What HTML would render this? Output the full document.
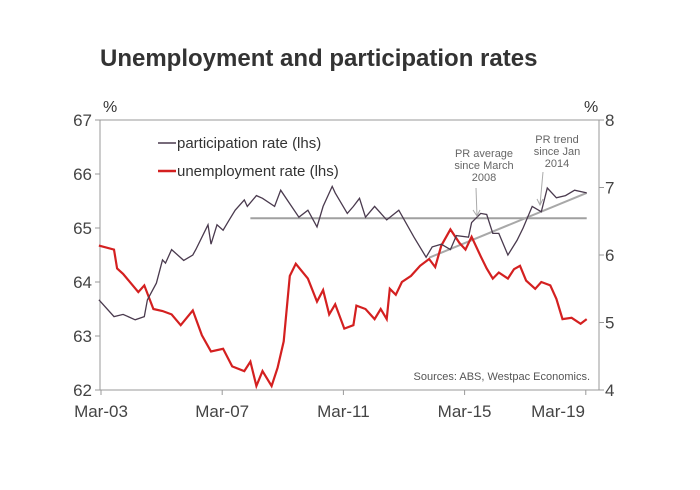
<!DOCTYPE html>
<html><head><meta charset="utf-8"><style>
body{margin:0;background:#fff;}
svg text{font-family:"Liberation Sans",Arial,sans-serif;}
</style></head><body>
<svg width="700" height="485" xmlns="http://www.w3.org/2000/svg">
<text x="100" y="66" font-size="24" font-weight="bold" fill="#333">Unemployment and participation rates</text>
<g id="axes"></g>
<g id="series"></g>
<g>
 <line x1="158" y1="143" x2="176" y2="143" stroke="#4a3a4e" stroke-width="1.5"/>
 <text x="177" y="148" font-size="15" fill="#333">participation rate (lhs)</text>
 <line x1="158" y1="171" x2="176" y2="171" stroke="#d42020" stroke-width="2.5"/>
 <text x="177" y="176" font-size="15" fill="#333">unemployment rate (lhs)</text>
</g>
<g font-size="11" fill="#666" text-anchor="middle">
 <text x="484" y="157">PR average</text><text x="484" y="169">since March</text><text x="484" y="181">2008</text>
 <line x1="476" y1="188" x2="477" y2="216" stroke="#aaa"/>
 <path d="M473,210 L477,216 L480,210" fill="none" stroke="#aaa"/>
</g>
<g font-size="11" fill="#666" text-anchor="middle">
 <text x="557" y="143">PR trend</text><text x="557" y="155">since Jan</text><text x="557" y="167">2014</text>
 <line x1="543" y1="172" x2="540" y2="205" stroke="#aaa"/>
 <path d="M537,199 L540,205 L543,199" fill="none" stroke="#aaa"/>
</g>
<text x="590" y="380" font-size="11" fill="#555" text-anchor="end">Sources: ABS, Westpac Economics.</text>
</svg>
<script>
const prDates=[2003.1,2003.6,2003.9,2004.3,2004.6,2004.7,2005.0,2005.2,2005.3,2005.5,2005.9,2006.2,2006.3,2006.7,2006.8,2007.0,2007.2,2007.4,2007.6,2007.9,2008.0,2008.3,2008.5,2008.9,2009.1,2009.4,2009.7,2010.0,2010.3,2010.5,2010.8,2010.9,2011.3,2011.5,2011.7,2011.9,2012.2,2012.6,2013.0,2013.5,2013.9,2014.1,2014.4,2014.7,2014.9,2015.3,2015.4,2015.7,2015.9,2016.1,2016.3,2016.6,2016.9,2017.1,2017.4,2017.7,2017.9,2018.2,2018.5,2018.8,2019.2];
const prValues=[63.67,63.36,63.4,63.3,63.36,63.67,63.98,64.41,64.35,64.6,64.4,64.5,64.6,65.06,64.7,65.06,64.96,65.15,65.33,65.52,65.4,65.6,65.55,65.4,65.7,65.45,65.2,65.33,65.02,65.4,65.77,65.65,65.27,65.4,65.55,65.2,65.4,65.15,65.33,64.83,64.46,64.65,64.7,64.6,64.86,64.83,65.1,65.27,65.25,64.9,64.9,64.5,64.77,65.0,65.4,65.3,65.74,65.56,65.6,65.7,65.65];
const urDates=[2003.1,2003.6,2003.7,2003.9,2004.4,2004.6,2004.9,2005.2,2005.5,2005.8,2006.2,2006.5,2006.8,2007.2,2007.5,2007.9,2008.1,2008.3,2008.5,2008.8,2009.0,2009.2,2009.4,2009.6,2010.0,2010.3,2010.5,2010.7,2010.9,2011.2,2011.5,2011.6,2011.9,2012.2,2012.4,2012.6,2012.7,2012.9,2013.1,2013.4,2013.7,2014.0,2014.2,2014.4,2014.7,2015.0,2015.2,2015.4,2015.7,2015.9,2016.1,2016.3,2016.6,2016.8,2017.0,2017.2,2017.5,2017.7,2018.0,2018.2,2018.4,2018.7,2019.0,2019.2];
const urValues=[6.14,6.08,5.8,5.72,5.45,5.55,5.2,5.17,5.12,4.96,5.18,4.81,4.57,4.61,4.35,4.28,4.42,4.06,4.28,4.06,4.33,4.72,5.69,5.87,5.65,5.31,5.48,5.12,5.27,4.91,4.96,5.25,5.2,5.05,5.2,5.05,5.5,5.41,5.6,5.69,5.84,5.94,5.82,6.14,6.38,6.18,6.08,6.27,5.98,5.8,5.65,5.74,5.65,5.79,5.84,5.62,5.5,5.6,5.55,5.35,5.05,5.07,4.98,5.05];
const avgLine=[2008.1,2019.2,65.18];
const trendLine=[2014.0,64.45,2019.2,65.65];
const leftTicks=[62,63,64,65,66,67];
const rightTicks=[4,5,6,7,8];
const xTickYears=[2003.17,2007.17,2011.17,2015.17,2019.17];
const xTickLabels=["Mar-03","Mar-07","Mar-11","Mar-15","Mar-19"];

const L=100,R=599,T=120,B=390;
const x=d=>101+(d-2003.17)*30.3;
const yl=v=>T+(67-v)*(B-T)/5;
const yr=v=>T+(8-v)*(B-T)/4;
const NS="http://www.w3.org/2000/svg";
function mk(tag,attrs,parent){const e=document.createElementNS(NS,tag);for(const k in attrs)e.setAttribute(k,attrs[k]);parent.appendChild(e);return e;}
const ax=document.getElementById('axes'), sr=document.getElementById('series');
let e=mk('rect',{x:L,y:T,width:R-L,height:B-T,fill:'none',stroke:'#999'},ax);


leftTicks.forEach(v=>{mk('line',{x1:L-5,x2:L,y1:yl(v),y2:yl(v),stroke:'#999'},ax);
 const t=mk('text',{x:L-8,y:yl(v)+6,'font-size':17,fill:'#444','text-anchor':'end'},ax);t.textContent=v;
 
 });
rightTicks.forEach(v=>{mk('line',{x1:R,x2:R+5,y1:yr(v),y2:yr(v),stroke:'#999'},ax);
 const t=mk('text',{x:R+6,y:yr(v)+6,'font-size':17,fill:'#444'},ax);t.textContent=v;
 
 });
xTickYears.forEach((d,i)=>{mk('line',{x1:x(d),x2:x(d),y1:B,y2:B+5,stroke:'#999'},ax);
 const last=i===xTickYears.length-1;
 const t=mk('text',{x:last?585:x(d),y:417,'font-size':17,fill:'#444','text-anchor':last?'end':'middle'},ax);t.textContent=xTickLabels[i];
 
 });
let p1=mk('text',{x:103,y:112,'font-size':16,fill:'#333'},ax);p1.textContent='%';


let p2=mk('text',{x:584,y:112,'font-size':16,fill:'#333'},ax);p2.textContent='%';



let a=mk('line',{x1:x(avgLine[0]),x2:x(avgLine[1]),y1:yl(avgLine[2]),y2:yl(avgLine[2]),stroke:'#a0a0a0','stroke-width':2},sr);


let tr=mk('line',{x1:x(trendLine[0]),y1:yl(trendLine[1]),x2:x(trendLine[2]),y2:yl(trendLine[3]),stroke:'#a8a8a8','stroke-width':2},sr);


let u=mk('path',{d:urDates.map((d,i)=>(i?'L':'M')+x(d).toFixed(1)+','+yr(urValues[i]).toFixed(1)).join(''),fill:'none',stroke:'#d42020','stroke-width':2.2},sr);


let pr=mk('path',{d:prDates.map((d,i)=>(i?'L':'M')+x(d).toFixed(1)+','+yl(prValues[i]).toFixed(1)).join(''),fill:'none',stroke:'#4a3a4e','stroke-width':1.3},sr);


</script>
</body></html>
